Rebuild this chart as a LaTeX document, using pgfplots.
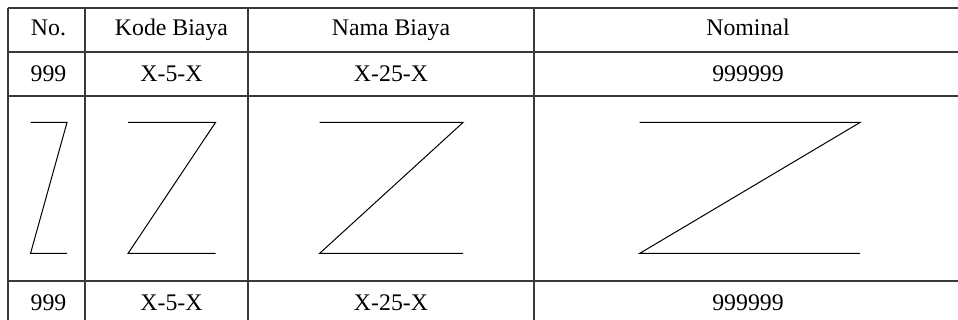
\documentclass[border=0pt]{standalone}
\usepackage{pgfplots}
\pgfplotsset{compat=1.18}
\usepackage{fontspec}
\setmainfont{Liberation Serif}
\definecolor{rule}{HTML}{3A3A3A}

\begin{document}
\begin{tikzpicture}
\useasboundingbox (0,0) rectangle (958pt,320pt);
\begin{axis}[
    at={(0,0)}, anchor=south west,
    width=958pt, height=320pt,
    scale only axis,
    hide axis,
    xmin=0, xmax=958,
    ymin=0, ymax=320,
    y dir=reverse,
    clip=true,
    every axis plot/.append style={no marks},
    nodes={font=\fontsize{23.8}{28}\selectfont, inner sep=0pt}
]
% table rules (right and bottom edge fall outside the picture)
\addplot[rule, line width=1.1pt] coordinates {(8,8) (970,8)};
\addplot[rule, line width=1.1pt] coordinates {(8,52) (970,52)};
\addplot[rule, line width=1.1pt] coordinates {(8,96) (970,96)};
\addplot[rule, line width=1.1pt] coordinates {(8,281) (970,281)};
\addplot[rule, line width=1.1pt] coordinates {(8,8) (8,330)};
\addplot[rule, line width=1.1pt] coordinates {(85,8) (85,330)};
\addplot[rule, line width=1.1pt] coordinates {(248,8) (248,330)};
\addplot[rule, line width=1.1pt] coordinates {(534,8) (534,330)};

% Z strokes in the third row
\addplot[black, line width=1pt] coordinates {(30.5,122.5) (67,122.5) (30.5,253.5) (67,253.5)};
\addplot[black, line width=1pt] coordinates {(128,122.5) (215.5,122.5) (128,253.5) (215.5,253.5)};
\addplot[black, line width=1pt] coordinates {(319.5,122.5) (463,122.5) (319.5,253.5) (463,253.5)};
\addplot[black, line width=1pt] coordinates {(639.5,122.5) (860,122.5) (639.5,253.5) (860,253.5)};

% header
\node[anchor=base] at (axis cs:48.5,36) {No.};
\node[anchor=base] at (axis cs:171.5,36) {Kode Biaya};
\node[anchor=base] at (axis cs:391,36) {Nama Biaya};
\node[anchor=base] at (axis cs:748,36) {Nominal};
% row 1
\node[anchor=base] at (axis cs:48.5,81.5) {999};
\node[anchor=base] at (axis cs:171.5,81.5) {X-5-X};
\node[anchor=base] at (axis cs:391,81.5) {X-25-X};
\node[anchor=base] at (axis cs:748,81.5) {999999};
% last row
\node[anchor=base] at (axis cs:48.5,310) {999};
\node[anchor=base] at (axis cs:171.5,310) {X-5-X};
\node[anchor=base] at (axis cs:391,310) {X-25-X};
\node[anchor=base] at (axis cs:748,310) {999999};
\end{axis}
\end{tikzpicture}
\end{document}
